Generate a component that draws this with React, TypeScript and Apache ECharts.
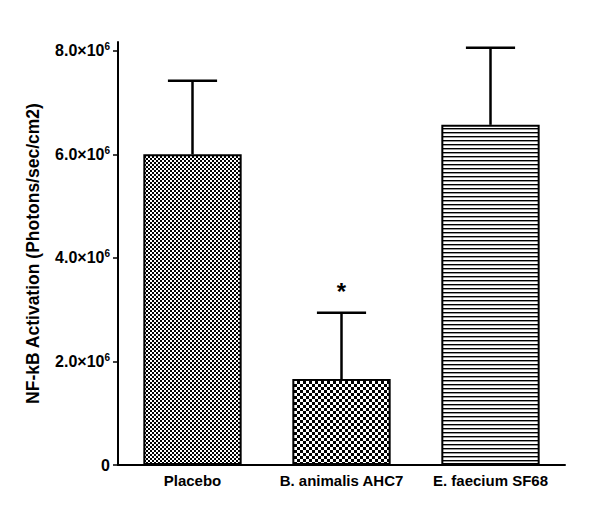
import React, { useEffect, useRef } from "react";
import * as echarts from "echarts";

const categories = ["Placebo", "B. animalis AHC7", "E. faecium SF68"];
const means = [6.0e6, 1.66e6, 6.57e6];
const errors = [1.42e6, 1.28e6, 1.49e6];
const marks = ["", "*", ""];
const yTicks = [0, 2e6, 4e6, 6e6, 8e6];
const yAxisTitle = "NF-kB Activation (Photons/sec/cm2)";

const FONT = "'Liberation Sans', Arial, sans-serif";

function makePattern(kind: string): HTMLCanvasElement {
  const c = document.createElement("canvas");
  if (kind === "lines") {
    c.width = 4;
    c.height = 4;
    const g = c.getContext("2d")!;
    g.fillStyle = "#fff";
    g.fillRect(0, 0, 4, 4);
    g.fillStyle = "#000";
    g.fillRect(0, 0, 4, 1);
    g.fillStyle = "#999";
    g.fillRect(0, 1, 4, 1);
    return c;
  }
  const s = kind === "fine" ? 2 : 3;
  c.width = 2 * s;
  c.height = 2 * s;
  const g = c.getContext("2d")!;
  g.fillStyle = "#fff";
  g.fillRect(0, 0, 2 * s, 2 * s);
  g.fillStyle = "#000";
  g.fillRect(0, 0, s, s);
  g.fillRect(s, s, s, s);
  return c;
}

export default function App() {
  const ref = useRef<HTMLDivElement>(null);
  useEffect(() => {
    if (!ref.current) return;
    const chart = echarts.init(ref.current, undefined, { renderer: "svg" });
    const patterns = ["fine", "coarse", "lines"].map((k) => ({
      image: makePattern(k),
      repeat: "repeat",
    }));
    chart.setOption({
      animation: false,
      backgroundColor: "#fff",
      grid: { left: 118, right: 35, top: 42, bottom: 54 },
      xAxis: {
        type: "category",
        data: categories,
        axisLine: { lineStyle: { color: "#000", width: 2 } },
        axisTick: { alignWithLabel: true, length: 5, lineStyle: { color: "#000", width: 1.5 } },
        axisLabel: {
          interval: 0,
          color: "#000",
          fontFamily: FONT,
          fontWeight: "bold",
          fontSize: 15,
          margin: 8,
        },
      },
      yAxis: {
        type: "value",
        min: 0,
        max: 8.17e6,
        name: yAxisTitle,
        nameLocation: "middle",
        nameGap: 76,
        nameTextStyle: { color: "#000", fontFamily: FONT, fontWeight: "bold", fontSize: 17.5 },
        splitLine: { show: false },
        axisLine: { show: true, lineStyle: { color: "#000", width: 2 } },
        axisTick: { show: true, length: 5, customValues: yTicks, lineStyle: { color: "#000", width: 1.5 } },
        axisLabel: {
          customValues: yTicks,
          margin: 8,
          color: "#000",
          fontFamily: FONT,
          fontWeight: "bold",
          fontSize: 16,
          formatter: (v: number) =>
            v === 0 ? "{b|0}" : `{b|${(v / 1e6).toFixed(1)}×10}{s|6}`,
          rich: {
            b: { color: "#000", fontFamily: FONT, fontWeight: "bold", fontSize: 16 },
            s: {
              color: "#000",
              fontFamily: FONT,
              fontWeight: "bold",
              fontSize: 10,
              padding: [0, 0, 8, 0],
            },
          },
        },
      },
      series: [
        {
          type: "bar",
          barWidth: "66%",
          data: means.map((v, i) => ({
            value: v,
            itemStyle: { color: patterns[i], borderColor: "#000", borderWidth: 2 },
          })),
        },
        {
          type: "custom",
          clip: false,
          z: 5,
          data: means.map((v, i) => [i, v, errors[i]]),
          renderItem: (params: any, api: any) => {
            const idx = api.value(0);
            const m = api.value(1);
            const e = api.value(2);
            const base = api.coord([idx, m]);
            const top = api.coord([idx, m + e]);
            const band = api.size([1, 0])[0];
            const half = band * 0.66 * 0.25;
            const children: any[] = [
              {
                type: "line",
                shape: { x1: base[0], y1: base[1], x2: top[0], y2: top[1] },
                style: { stroke: "#000", lineWidth: 2.5 },
              },
              {
                type: "line",
                shape: { x1: top[0] - half, y1: top[1], x2: top[0] + half, y2: top[1] },
                style: { stroke: "#000", lineWidth: 2.5 },
              },
            ];
            const mk = marks[params.dataIndex];
            if (mk) {
              children.push({
                type: "text",
                x: top[0],
                y: top[1] - 9,
                style: {
                  text: mk,
                  fill: "#000",
                  font: `bold 24px ${FONT}`,
                  align: "center",
                  verticalAlign: "bottom",
                },
              });
            }
            return { type: "group", children };
          },
        },
      ],
    });
    return () => chart.dispose();
  }, []);
  return (
    <div
      ref={ref}
      style={{ position: "absolute", left: 0, top: 0, width: 600, height: 519 }}
    />
  );
}
